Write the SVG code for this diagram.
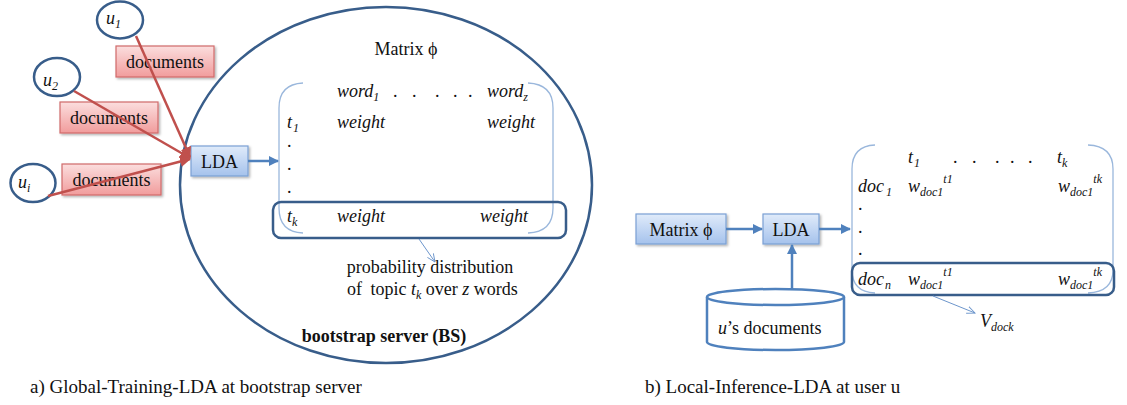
<svg xmlns="http://www.w3.org/2000/svg" width="1127" height="405" viewBox="0 0 1127 405" font-family="'Liberation Serif', 'Times New Roman', 'DejaVu Serif', serif">
<defs>
<style>
text, tspan{font-family:"Liberation Serif","Times New Roman","DejaVu Serif",serif}
text{font-size:18px;fill:#111}
.it{font-style:italic}
.sub{font-size:12px}
.cap{font-size:19px}
.user{fill:#fff;stroke:#385d8a;stroke-width:2.5}
.doc{fill:url(#gPink);stroke:#d06a6a;stroke-width:1.2;filter:url(#sh)}
.box{fill:url(#gBlue);stroke:#7ba0d4;stroke-width:1.2;filter:url(#sh)}
.brk{fill:none;stroke:#9ab7dc;stroke-width:1.3}
.hl{fill:none;stroke:#385d8a;stroke-width:2.5}
.red{stroke:#c0504d;stroke-width:2.5;fill:none}
.blue{stroke:#4f81bd;stroke-width:2.5;fill:none}
.thin{stroke:#6d96cc;stroke-width:1;fill:none}
</style>
<linearGradient id="gBlue" x1="0" y1="0" x2="0" y2="1">
<stop offset="0" stop-color="#e0ebfa"/><stop offset="1" stop-color="#a5c2ec"/>
</linearGradient>
<linearGradient id="gPink" x1="0" y1="0" x2="0" y2="1">
<stop offset="0" stop-color="#fbdede"/><stop offset="1" stop-color="#f19c9c"/>
</linearGradient>
<filter id="sh" x="-10%" y="-20%" width="130%" height="150%">
<feDropShadow dx="1.5" dy="1.5" stdDeviation="1" flood-color="#000" flood-opacity="0.3"/>
</filter>
<marker id="aRed" viewBox="0 0 10 10" refX="9" refY="5" markerWidth="11" markerHeight="11" markerUnits="userSpaceOnUse" orient="auto">
<path d="M0,0 L10,5 L0,10 z" fill="#c0504d"/>
</marker>
<marker id="aBlue" viewBox="0 0 10 10" refX="9" refY="5" markerWidth="10" markerHeight="10" markerUnits="userSpaceOnUse" orient="auto">
<path d="M0,0 L10,5 L0,10 z" fill="#4f81bd"/>
</marker>
<marker id="aThin" viewBox="0 0 10 10" refX="9" refY="5" markerWidth="9" markerHeight="9" markerUnits="userSpaceOnUse" orient="auto">
<path d="M0,1 L9,5 L0,9" fill="none" stroke="#6d96cc" stroke-width="1"/>
</marker>
</defs>
<rect width="1127" height="405" fill="#fff"/>

<g id="bs-server">
<ellipse cx="386" cy="185" rx="206" ry="178" fill="none" stroke="#385d8a" stroke-width="2.5"/>
<text x="384" y="342" text-anchor="middle" font-weight="bold">bootstrap server (BS)</text>
</g>

<g id="user-u1">
<ellipse class="user" cx="120" cy="20" rx="23" ry="18.5"/>
<text x="106" y="24" class="it">u<tspan class="sub" dy="4">1</tspan></text>
</g>
<g id="user-u2">
<ellipse class="user" cx="57" cy="77" rx="23" ry="19"/>
<text x="43" y="86" class="it">u<tspan class="sub" dy="4">2</tspan></text>
</g>
<g id="user-ui">
<ellipse class="user" cx="33" cy="183" rx="22.5" ry="19"/>
<text x="18" y="188" class="it">u<tspan class="sub" dy="4">i</tspan></text>
</g>

<g id="docs-1">
<rect class="doc" x="116" y="46" width="98" height="31"/>
<text x="165" y="68" text-anchor="middle">documents</text>
</g>
<g id="docs-2">
<rect class="doc" x="60" y="102" width="98" height="31"/>
<text x="109" y="124" text-anchor="middle">documents</text>
</g>
<g id="docs-i">
<rect class="doc" x="62" y="164" width="99" height="31"/>
<text x="111.5" y="186" text-anchor="middle">documents</text>
</g>

<g id="lda-global">
<rect class="box" x="191" y="146" width="57" height="30"/>
<text x="219.5" y="168" text-anchor="middle">LDA</text>
</g>

<g id="matrix-phi-global">
<text x="406" y="55" text-anchor="middle">Matrix ϕ</text>
<path class="brk" d="M303,83 Q279,84 279,108 L279,208 Q279,232 303,233"/>
<path class="brk" d="M528,83 Q553,84 553,108 L553,208 Q553,232 528,233"/>
<text x="337" y="97" class="it">word<tspan class="sub" dy="4">1</tspan></text>
<text x="393 412 435 453 468" y="97">.....</text>
<text x="487" y="97" class="it">word<tspan class="sub" dy="4">z</tspan></text>
<text x="287" y="128" class="it">t<tspan class="sub" dx="1" dy="4">1</tspan></text>
<text x="337" y="128" class="it">weight</text>
<text x="487" y="128" class="it">weight</text>
<text x="287" y="147">.</text>
<text x="287" y="170">.</text>
<text x="287" y="193">.</text>
<rect class="hl" x="273" y="202" width="293" height="36" rx="8"/>
<text x="287" y="222" class="it">t<tspan class="sub" dy="4">k</tspan></text>
<text x="337" y="222" class="it">weight</text>
<text x="480" y="222" class="it">weight</text>
</g>

<g id="prob-label">
<text x="430" y="273" text-anchor="middle">probability distribution</text>
<text x="347" y="295">of <tspan dx="4">topic </tspan><tspan class="it">t</tspan><tspan class="it sub" dy="4">k</tspan><tspan dy="-4"> over </tspan><tspan class="it">z</tspan> words</text>
</g>

<g id="matrix-phi-local">
<rect class="box" x="636" y="214" width="90" height="30"/>
<text x="681" y="236" text-anchor="middle">Matrix ϕ</text>
</g>
<g id="lda-local">
<rect class="box" x="763" y="214" width="56" height="30"/>
<text x="791" y="236" text-anchor="middle">LDA</text>
</g>
<g id="user-docs-db">
<path d="M707,297 L707,342 A68.5,8 0 0 0 844,342 L844,297" fill="#fff" stroke="#4f81bd" stroke-width="2.5"/>
<ellipse cx="775.5" cy="297" rx="68.5" ry="8" fill="#fff" stroke="#4f81bd" stroke-width="2.5"/>
<text x="718" y="334"><tspan class="it">u</tspan>’s documents</text>
</g>

<g id="matrix-v-local">
<path class="brk" d="M875,145 Q852,146 852,169 L852,270 Q852,292 875,293"/>
<path class="brk" d="M1088,145 Q1113,146 1113,169 L1113,270 Q1113,292 1088,293"/>
<text x="908" y="163" class="it">t<tspan class="sub" dx="1" dy="4">1</tspan></text>
<text x="953 972 995 1010 1028" y="163">.....</text>
<text x="1057" y="163" class="it">t<tspan class="sub" dy="4">k</tspan></text>
<text x="858" y="192" class="it">doc<tspan class="sub" dx="2" dy="4">1</tspan></text>
<text x="908" y="192" class="it">w<tspan class="sub" dy="4">doc1</tspan><tspan class="sub" dy="-13">t1</tspan></text>
<text x="1058" y="192" class="it">w<tspan class="sub" dy="4">doc1</tspan><tspan class="sub" dy="-13">tk</tspan></text>
<text x="858" y="210">.</text>
<text x="858" y="233">.</text>
<text x="858" y="255">.</text>
<rect class="hl" x="852" y="263" width="262" height="32" rx="8"/>
<text x="858" y="285" class="it">doc<tspan class="sub" dx="1" dy="4">n</tspan></text>
<text x="908" y="285" class="it">w<tspan class="sub" dy="4">doc1</tspan><tspan class="sub" dy="-13">t1</tspan></text>
<text x="1058" y="285" class="it">w<tspan class="sub" dy="4">doc1</tspan><tspan class="sub" dy="-13">tk</tspan></text>
</g>
<g id="vdock-label">
<text x="980" y="327" class="it">V<tspan class="sub" dy="4">dock</tspan></text>
</g>

<g id="connectors">
<line class="red" x1="136" y1="36" x2="190" y2="157" marker-end="url(#aRed)"/>
<line class="red" x1="74" y1="91" x2="190" y2="158" marker-end="url(#aRed)"/>
<line class="red" x1="48" y1="196" x2="190" y2="159" marker-end="url(#aRed)"/>
<line class="blue" x1="248" y1="161" x2="278" y2="161" marker-end="url(#aBlue)"/>
<line class="thin" x1="419" y1="239" x2="435" y2="262" marker-end="url(#aThin)"/>
<line class="blue" x1="726" y1="229" x2="762" y2="229" marker-end="url(#aBlue)"/>
<line class="blue" x1="819" y1="229" x2="850" y2="229" marker-end="url(#aBlue)"/>
<line class="blue" x1="792" y1="289" x2="792" y2="245" marker-end="url(#aBlue)"/>
<line class="thin" x1="933" y1="296" x2="975" y2="313" marker-end="url(#aThin)"/>
</g>

<g id="captions">
<text x="30" y="393" class="cap">a) Global-Training-LDA at bootstrap server</text>
<text x="645" y="393" class="cap">b) Local-Inference-LDA at user u</text>
</g>
</svg>
